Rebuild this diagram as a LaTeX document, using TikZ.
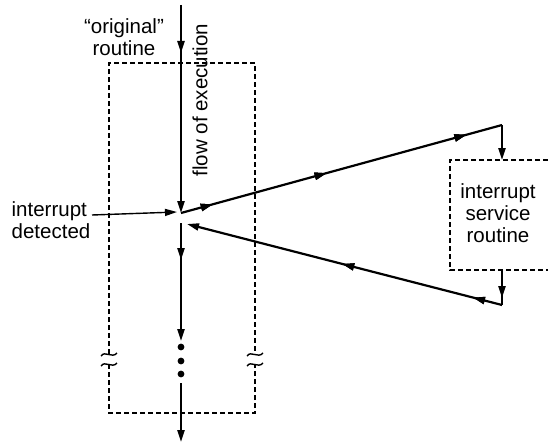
\documentclass[tikz,border=0pt]{standalone}
\usepackage{fontspec}
\setmainfont{Liberation Sans}
\usetikzlibrary{arrows.meta,decorations.markings}
\begin{document}
\begin{tikzpicture}[x=1pt,y=-1pt,
  flow/.style={line width=2.2pt},
  endtip/.style={-{Triangle[length=12pt,width=7pt]}},
  dashbox/.style={line width=1.8pt, dash pattern=on 5pt off 3pt},
  lbl/.style={font=\fontsize{20.5}{22}\selectfont, align=center, inner sep=0pt},
  brk/.style={line width=1.4pt},
  mk/.style={postaction={decorate}, decoration={markings, mark=at position #1 with {\arrow{Triangle[length=12pt,width=7pt]}}}}
]
\useasboundingbox (0,0) rectangle (548,444);
% coordinates
\coordinate (top) at (181,5);
\coordinate (j1) at (181,213);
\coordinate (j2) at (181,223);
\coordinate (d1) at (181,341);
\coordinate (d2) at (181,383);
\coordinate (bot) at (181,442);
\coordinate (c1) at (502,125);
\coordinate (c2) at (502,305);
\coordinate (ret) at (187,224);
\coordinate (intsrc) at (92,215);
\coordinate (intdst) at (177,212);
\coordinate (isrt) at (502,160);
\coordinate (isrb) at (502,270);
% dashed original routine box with breaks
\draw[dashbox] (109,354) -- (109,63) -- (255,63) -- (255,354);
\draw[dashbox] (109,364) -- (109,413) -- (255,413) -- (255,364);
\foreach \x in {109,255}{
  \draw[brk] (\x-8,356) .. controls (\x-4,350) and (\x+3,359) .. (\x+8,353);
  \draw[brk] (\x-8,366) .. controls (\x-4,360) and (\x+3,369) .. (\x+8,363);
}
% ISR box
\draw[dashbox] (548,160) -- (450,160) -- (450,270) -- (548,270);
% labels
\node[lbl] (orig) at (124,37) {“original”\\routine};
\node[lbl, rotate=90] (flowlbl) at (200,100) {flow of execution};
\node[lbl, align=left] (intdet) at (51,220) {interrupt\\detected};
\node[lbl] (isr) at (498,213) {interrupt\\service\\routine};
% main flow
\draw[flow, endtip, mk=48pt] (top) -- (j1);
\draw[flow, endtip, mk=37pt] (j2) -- (d1);
\draw[flow, endtip] (d2) -- (bot);
\foreach \y in {347,361,374} \fill (181,\y) circle (3.4);
% interrupt arrow
\draw[line width=1.4pt, endtip] (intsrc) -- (intdst);
% to ISR
\draw[flow, mk=33pt, mk=151pt, mk=296pt] (j1) -- (c1);
\draw[flow, endtip] (c1) -- (isrt);
\draw[flow, mk=28pt] (isrb) -- (c2);
\draw[flow, endtip, mk=30pt, mk=165pt] (c2) -- (ret);
\end{tikzpicture}
\end{document}
